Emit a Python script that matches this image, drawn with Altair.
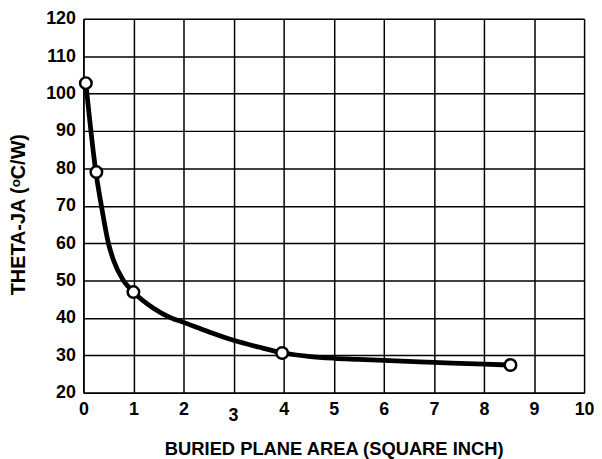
import altair as alt
import pandas as pd

# curve
curve_x = [0.05, 0.25, 0.36, 0.5, 0.6, 0.8, 1.0, 1.4, 1.75, 2.0, 2.5, 3.0, 3.5, 4.0, 4.5, 5.0, 5.5, 6.0, 7.0, 8.0, 8.53]
curve_y = [102.8, 79.0, 70.0, 60.0, 55.5, 50.0, 46.9, 42.6, 40.0, 38.8, 36.3, 34.0, 32.2, 30.6, 29.7, 29.2, 28.9, 28.6, 28.1, 27.6, 27.4]

# measured points (open circles)
pts_x = [0.05, 0.26, 1.0, 3.97, 8.53]
pts_y = [102.8, 79.0, 46.9, 30.6, 27.4]

x_ticks = [0, 1, 2, 3, 4, 5, 6, 7, 8, 9, 10]
y_ticks = [20, 30, 40, 50, 60, 70, 80, 90, 100, 110, 120]

curve = pd.DataFrame({"x": curve_x, "y": curve_y})
pts = pd.DataFrame({"x": pts_x, "y": pts_y})
odd_label = pd.DataFrame({"x": [3], "y": [20], "t": ["3"]})

FONT = "Liberation Sans"

xs = alt.Scale(domain=[0, 10], nice=False, zero=False)
ys = alt.Scale(domain=[20, 120], nice=False, zero=False)

x_axis = alt.Axis(
    values=x_ticks, tickCount=11, title="BURIED PLANE AREA (SQUARE INCH)", ticks=False,
    labelExpr="datum.value == 3 ? '' : datum.label",
    labelFont=FONT, labelFontSize=18, labelFontWeight="bold", labelColor="black",
    labelPadding=8, labelFlush=False, labelOverlap=False,
    titleFont=FONT, titleFontSize=18.5, titleFontWeight="bold", titleColor="black",
    titleBaseline="middle", titleY=56,
    grid=True, gridColor="black", gridWidth=1.5, gridOpacity=1,
    domainColor="black", domainWidth=1.5,
)
y_axis = alt.Axis(
    values=y_ticks, tickCount=11, title="THETA-JA (ᵒC/W)", ticks=False,
    labelExpr="datum.label",
    labelFont=FONT, labelFontSize=18, labelFontWeight="bold", labelColor="black",
    labelPadding=8, labelFlush=False, labelOverlap=False,
    titleFont=FONT, titleFontSize=20, titleFontWeight="bold", titleColor="black",
    titleBaseline="middle", titleX=-65, titleY=197, titleAngle=270,
    grid=True, gridColor="black", gridWidth=1.5, gridOpacity=1,
    domainColor="black", domainWidth=1.5,
)

X = alt.X("x:Q", scale=xs, axis=x_axis)
Y = alt.Y("y:Q", scale=ys, axis=y_axis)

line = alt.Chart(curve).mark_line(
    color="black", strokeWidth=4.8, interpolate="monotone"
).encode(x=X, y=Y)

points = alt.Chart(pts).mark_point(
    shape="circle", filled=True, fill="white", stroke="black", strokeWidth=2.5,
    size=135, opacity=1
).encode(x=X, y=Y)

label3 = alt.Chart(odd_label).mark_text(
    font=FONT, fontSize=18, fontWeight="bold", color="black", dy=24
).encode(x=X, y=Y, text="t:N")

chart = alt.layer(line, points, label3).properties(
    width=505, height=377,
    autosize=alt.AutoSizeParams(type="none"),
    padding={"left": 76, "top": 9, "right": 10, "bottom": 65},
).configure_axis(labelOverlap=False).configure_view(
    stroke="black", strokeWidth=1.5
).configure(background="white")

chart.save("out.html", embed_options={"renderer": "svg", "actions": False})
